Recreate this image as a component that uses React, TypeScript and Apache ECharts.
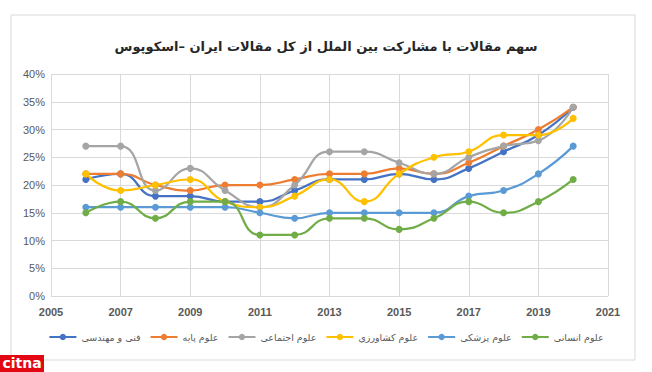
import React, { useEffect, useRef } from "react";
import * as echarts from "echarts";

const years = [2006, 2007, 2008, 2009, 2010, 2011, 2012, 2013, 2014, 2015, 2016, 2017, 2018, 2019, 2020];
const seriesNames = ["فنی و مهندسی", "علوم پایه", "علوم اجتماعی", "علوم کشاورزی", "علوم پزشکی", "علوم انسانی"];
const engineering = [21, 22, 18, 18, 17, 17, 19, 21, 21, 22, 21, 23, 26, 29, 34];
const basicSciences = [22, 22, 20, 19, 20, 20, 21, 22, 22, 23, 22, 24, 27, 30, 34];
const socialSciences = [27, 27, 19, 23, 19, 16, 20, 26, 26, 24, 22, 25, 27, 28, 34];
const agriculture = [22, 19, 20, 21, 17, 16, 18, 21, 17, 22, 25, 26, 29, 29, 32];
const medical = [16, 16, 16, 16, 16, 15, 14, 15, 15, 15, 15, 18, 19, 22, 27];
const humanities = [15, 17, 14, 17, 17, 11, 11, 14, 14, 12, 14, 17, 15, 17, 21];
const colors = ["#4472C4", "#ED7D31", "#A5A5A5", "#FFC000", "#5B9BD5", "#70AD47"];
const titleText = "سهم مقالات با مشارکت بین الملل از کل مقالات ایران –اسکوپوس";

export default function App() {
  const ref = useRef<HTMLDivElement>(null);
  useEffect(() => {
    if (!ref.current) return;
    const chart = echarts.init(ref.current, null, { renderer: "svg" });
    const all = [engineering, basicSciences, socialSciences, agriculture, medical, humanities];
    chart.setOption({
      animation: false,
      backgroundColor: "#ffffff",
      title: {
        text: titleText,
        left: "center",
        top: 35,
        textStyle: { fontFamily: "DejaVu Sans", fontSize: 13, fontWeight: "bold", color: "#262626" },
      },
      graphic: [
        {
          type: "rect",
          shape: { x: 11, y: 15, width: 624, height: 345 },
          style: { fill: "none", stroke: "#d9d9d9", lineWidth: 1 },
          silent: true,
        },
        {
          type: "rect",
          shape: { x: 0, y: 355, width: 44, height: 17 },
          style: { fill: "#e30613" },
        },
        {
          type: "text",
          x: 22,
          y: 363,
          style: {
            text: "citna",
            fill: "#ffffff",
            font: "bold 14px 'DejaVu Sans'",
            align: "center",
            verticalAlign: "middle",
          },
        },
      ],
      legend: {
        bottom: 25,
        left: "center",
        itemWidth: 27,
        itemHeight: 8,
        itemGap: 9,
        textStyle: { fontFamily: "DejaVu Sans", fontSize: 9.5, color: "#595959" },
        data: seriesNames,
      },
      grid: { left: 51, right: 44, top: 74, bottom: 76 },
      xAxis: {
        type: "value",
        min: 2005,
        max: 2021,
        interval: 2,
        axisLine: { show: false },
        axisTick: { show: false },
        splitLine: { show: true, lineStyle: { color: "#d9d9d9", width: 1 } },
        axisLabel: {
          color: "#595959",
          fontSize: 11,
          fontWeight: "bold",
          fontFamily: "Liberation Sans",
          margin: 10,
          formatter: (v: number) => String(v),
        },
      },
      yAxis: {
        type: "value",
        min: 0,
        max: 40,
        interval: 5,
        axisLine: { show: false },
        axisTick: { show: false },
        splitLine: { show: true, lineStyle: { color: "#d9d9d9", width: 1 } },
        axisLabel: { color: "#595959", fontSize: 11, fontFamily: "Liberation Sans", formatter: (v: number) => v + "%", margin: 6 },
      },
      series: seriesNames.map((name, i) => ({
        name,
        type: "line",
        smooth: 0.5,
        symbol: "circle",
        symbolSize: 7,
        color: colors[i],
        lineStyle: { width: 2.25, color: colors[i] },
        itemStyle: { color: colors[i] },
        data: years.map((y, j) => [y, all[i][j]]),
      })),
    });
    return () => chart.dispose();
  }, []);
  return <div ref={ref} style={{ position: "absolute", left: 0, top: 0, width: 652, height: 372 }} />;
}
